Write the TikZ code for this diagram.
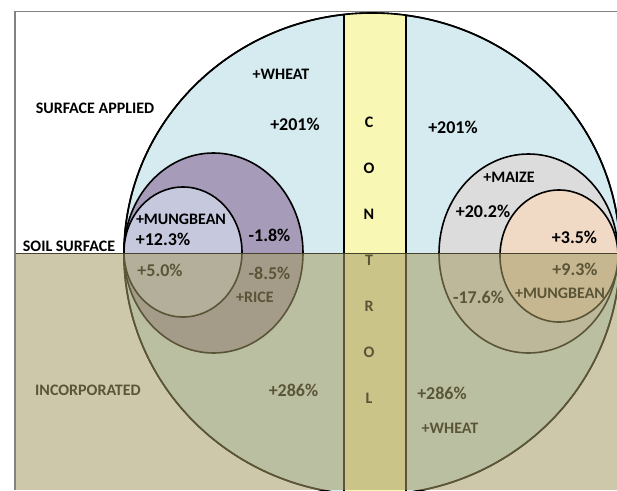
\documentclass[tikz,border=0pt]{standalone}
\usepackage{fontspec}
\setmainfont{Carlito}
\usepackage{xcolor}
\definecolor{skyfill}{RGB}{213,235,239}
\definecolor{ricefill}{RGB}{166,155,184}
\definecolor{mungfill}{RGB}{198,201,222}
\definecolor{maizefill}{RGB}{220,220,220}
\definecolor{peachfill}{RGB}{240,218,198}
\definecolor{ctrlfill}{RGB}{248,247,180}
\definecolor{soilfill}{RGB}{165,155,100}
\definecolor{soilline}{RGB}{70,66,45}
\definecolor{framegray}{RGB}{130,130,130}

\begin{document}
\begin{tikzpicture}[x=1pt, y=-1pt,
    every node/.style = {inner sep=0pt, font=\bfseries\fontsize{16}{16}\selectfont},
    num/.style = {font=\bfseries\fontsize{18}{18}\selectfont},
    ring/.style = {draw, line width=1.6pt}]
  \clip (0,0) rectangle (617,490);
  \fill[white] (0,0) rectangle (617,490);

  \path[ring, fill=skyfill] (372,254) ellipse [x radius=248, y radius=241];
  \begin{scope}
    \clip (372,254) ellipse [x radius=248, y radius=241];
    \path[draw, line width=1.3pt, fill=ctrlfill] (344,-10) rectangle (406,500);
  \end{scope}
  \path[ring] (372,254) ellipse [x radius=248, y radius=241];

  \path[ring, fill=ricefill] (213.5,253) ellipse [x radius=89.5, y radius=100];
  \path[ring, fill=mungfill] (183,252) ellipse [x radius=59, y radius=65];
  \path[ring, fill=maizefill] (528.5,253.5) ellipse [x radius=89.5, y radius=99.5];
  \path[ring, fill=peachfill] (559,256) ellipse [x radius=59, y radius=66];

  \node (applied) at (95,108) {SURFACE APPLIED};
  \node (soil) at (69,246.5) {SOIL SURFACE};
  \node (incorp) at (88,390) {INCORPORATED};

  \node (wheatTop) at (281,74) {+WHEAT};
  \node[num] (wheatL) at (295,124) {+201\%};
  \node[num] (wheatR) at (453,127) {+201\%};
  \node (mungL) at (181,219) {+MUNGBEAN};
  \node[num] (mungLup) at (163,239) {+12.3\%};
  \node[num] (riceUp) at (269.5,235) {-1.8\%};
  \node (maize) at (509,177) {+MAIZE};
  \node[num] (maizeUp) at (483,211) {+20.2\%};
  \node[num] (mungRup) at (574.5,237.5) {+3.5\%};

  \node[num] (mungRdn) at (575,269) {+9.3\%};
  \node (mungR) at (560,293) {+MUNGBEAN};
  \node[num] (maizeDn) at (478.5,297) {-17.6\%};
  \node[num] (mungLdn) at (160,270.5) {+5.0\%};
  \node[num] (riceDn) at (269.5,273) {-8.5\%};
  \node (rice) at (255,297) {+RICE};
  \node[num] (wheatLdn) at (293.5,390.5) {+286\%};
  \node[num] (wheatRdn) at (442,393) {+286\%};
  \node (wheatBot) at (450,428) {+WHEAT};

  \foreach \ch [count=\i] in {C,O,N,T,R,O,L}
    \node (ctrl\i) at (369,122+46*\i-46) {\ch};

  \fill[soilfill, fill opacity=0.55] (15,254) rectangle (617,490);
  \draw[soilline, line width=1.3pt] (15,253.5) -- (617,253.5);
  \draw[framegray, line width=1.5pt] (15,490) -- (15,11.5) -- (617,11.5);
\end{tikzpicture}
\end{document}
